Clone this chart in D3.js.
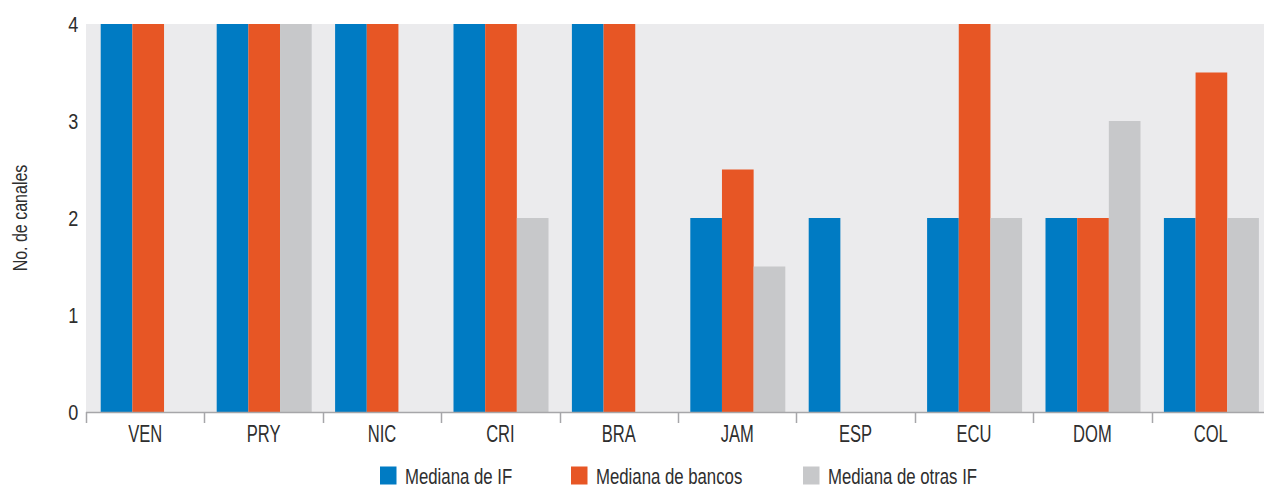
<!DOCTYPE html>
<html>
<head>
<meta charset="utf-8">
<script src="https://cdn.jsdelivr.net/npm/d3@7"></script>
<style>
  html, body { margin: 0; padding: 0; background: #ffffff; }
  svg { display: block; }
  text { font-family: "Liberation Sans", Arial, sans-serif; fill: #2e2e2e; }
</style>
</head>
<body>
<svg id="chart" width="1264" height="489"></svg>
<script>
// Countries on the x axis
const countries = ["VEN", "PRY", "NIC", "CRI", "BRA", "JAM", "ESP", "ECU", "DOM", "COL"];
// Median number of channels per group of institutions
const medianIF     = [4, 4, 4, 4, 4, 2, 2, 2, 2, 2];
const medianBancos = [4, 4, 4, 4, 4, 2.5, 0, 4, 2, 3.5];
const medianOtras  = [0, 4, 0, 2, 0, 1.5, 0, 2, 3, 2];
const seriesNames  = ["Mediana de IF", "Mediana de bancos", "Mediana de otras IF"];
const yTicks = [0, 1, 2, 3, 4];

const seriesValues = [medianIF, medianBancos, medianOtras];
const colors = ["#007bc3", "#e75625", "#c7c8ca"];

const svg = d3.select("#chart");
const m = { left: 86, top: 24, bottom: 412, right: 1270 };

// condensed lettering: horizontally squeezed text
function condensed(sel, x, y, sx, anchor) {
  sel.attr("transform", `translate(${x},${y}) scale(${sx},1)`)
     .attr("text-anchor", anchor);
}

const x = d3.scaleBand().domain(countries).range([m.left, m.right]);
const xInner = d3.scaleBand().domain(d3.range(3)).range([12.3, x.bandwidth() - 11.1]);
const y = d3.scaleLinear().domain([0, 4]).range([m.bottom, m.top]);

// plot background
svg.append("rect")
  .attr("x", m.left).attr("y", m.top)
  .attr("width", m.right - m.left).attr("height", m.bottom - m.top)
  .attr("fill", "#ebebed");

// bars
const groups = svg.append("g").selectAll("g")
  .data(countries)
  .join("g")
  .attr("transform", (d, i) => `translate(${x(d) + (i === 0 ? 2.4 : 0)},0)`);

groups.selectAll("rect")
  .data((c, i) => seriesValues.map((vals, s) => ({ s, v: vals[i] })))
  .join("rect")
  .attr("x", d => xInner(d.s))
  .attr("width", xInner.bandwidth())
  .attr("y", d => y(d.v))
  .attr("height", d => m.bottom - y(d.v))
  .attr("fill", d => colors[d.s]);

// x axis: baseline with ticks on band boundaries
const xAxis = svg.append("g");
xAxis.append("line")
  .attr("x1", m.left).attr("x2", m.right)
  .attr("y1", m.bottom + 0.5).attr("y2", m.bottom + 0.5)
  .attr("stroke", "#a6a6a9").attr("stroke-width", 1.5);
xAxis.selectAll("line.tick")
  .data(countries)
  .join("line")
  .attr("class", "tick")
  .attr("x1", d => Math.round(x(d)) + 0.5).attr("x2", d => Math.round(x(d)) + 0.5)
  .attr("y1", m.bottom).attr("y2", m.bottom + 11)
  .attr("stroke", "#a6a6a9").attr("stroke-width", 1.5);
xAxis.selectAll("text")
  .data(countries)
  .join("text")
  .attr("font-size", 23)
  .each(function (d) {
    condensed(d3.select(this), x(d) + x.bandwidth() / 2, 441.5, 0.72, "middle");
  })
  .text(d => d);

// y axis labels
const yg = svg.append("g");
yg.selectAll("text")
  .data(yTicks)
  .join("text")
  .attr("font-size", 22)
  .each(function (d) {
    condensed(d3.select(this), m.left - 7.7, y(d) + 7.8, 0.82, "end");
  })
  .text(d3.format("d"));

// y axis title
svg.append("text")
  .attr("transform", `translate(27,${(m.top + m.bottom) / 2}) rotate(-90) scale(0.8,1)`)
  .attr("text-anchor", "middle")
  .attr("font-size", 20)
  .text("No. de canales");

// legend
const legendX = [380, 571, 803];
const legend = svg.append("g").selectAll("g")
  .data(seriesNames)
  .join("g")
  .attr("transform", (d, i) => `translate(${legendX[i]},466.5)`);
legend.append("rect")
  .attr("width", 16.5).attr("height", 18)
  .attr("fill", (d, i) => colors[i]);
legend.append("text")
  .attr("font-size", 21.5)
  .each(function () {
    condensed(d3.select(this), 25, 17.5, 0.78, "start");
  })
  .text(d => d);
</script>
</body>
</html>
